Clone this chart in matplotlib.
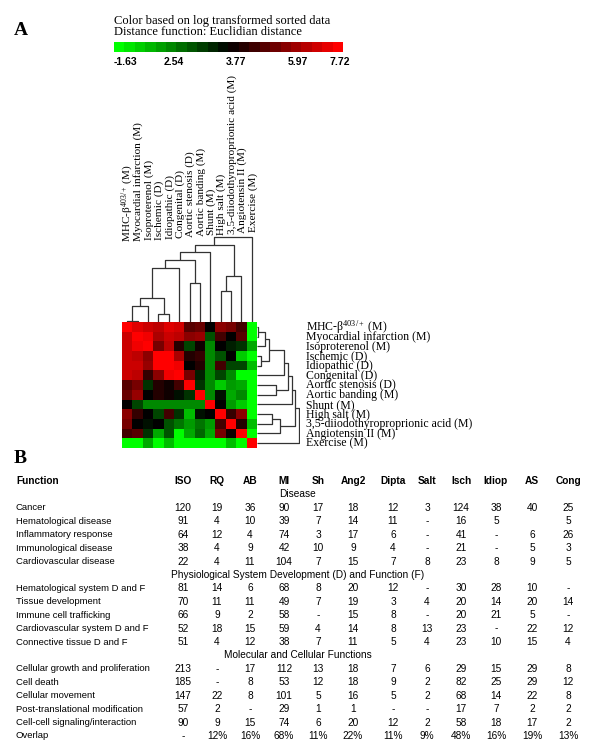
import numpy as np
import matplotlib
matplotlib.use('Agg')
import matplotlib.pyplot as plt
from matplotlib.colors import LinearSegmentedColormap, TwoSlopeNorm
from matplotlib import transforms

plt.rcParams['mathtext.fontset'] = 'custom'
plt.rcParams['mathtext.rm'] = 'Liberation Serif'
plt.rcParams['mathtext.it'] = 'Liberation Serif:italic'
plt.rcParams['mathtext.bf'] = 'Liberation Serif:bold'

SERIF = 'Liberation Serif'
SANS = 'Liberation Sans'

# ---- panel A data ----
models = ['MHC-β$^{403/+}$ (M)', 'Myocardial infarction (M)', 'Isoproterenol (M)',
          'Ischemic (D)', 'Idiopathic (D)', 'Congenital (D)', 'Aortic stenosis (D)',
          'Aortic banding (M)', 'Shunt (M)', 'High salt (M)',
          '3,5-diiodothyroproprionic acid (M)', 'Angiotensin II (M)', 'Exercise (M)']

heat = np.array([
    [7.7, 7.2, 6.9, 6.7, 7.2, 7.0, 5.1, 5.4, 3.8, 5.9, 5.6, 4.8, -1.6],
    [6.9, 7.7, 7.5, 6.4, 6.9, 6.7, 5.9, 6.1, 2.0, 4.8, 3.8, 5.1, -1.6],
    [6.9, 7.5, 7.7, 5.6, 6.7, 4.3, 2.3, 4.0, 0.9, 3.8, 3.1, 2.7, 0.2],
    [6.9, 6.7, 5.9, 7.7, 7.7, 6.4, 4.3, 4.6, 0.9, 2.0, 3.8, -0.5, -1.6],
    [6.9, 6.9, 6.1, 7.7, 7.7, 7.5, 3.8, 4.3, 0.9, 4.8, 2.3, 2.3, -0.2],
    [6.9, 6.7, 4.6, 5.9, 7.5, 7.7, 5.6, 3.1, 0.9, 2.3, 0.9, -1.6, -1.6],
    [5.1, 5.6, 2.7, 4.3, 4.0, 4.8, 7.7, 2.7, 0.9, -0.5, 0.5, 0.2, -1.6],
    [5.4, 6.1, 3.8, 4.3, 4.0, 3.4, 2.7, 7.7, 0.9, 3.4, 0.2, 0.9, -1.6],
    [3.8, 2.3, 0.9, 0.9, 0.9, 0.9, 0.9, 0.9, 7.7, 3.8, 0.5, -0.5, -1.6],
    [5.9, 4.6, 3.8, 2.3, 4.8, 2.7, -0.2, 3.4, 3.8, 7.7, 4.6, 5.9, -1.6],
    [5.6, 3.8, 3.4, 3.8, 2.0, 1.3, 0.5, 1.3, 0.5, 4.8, 7.7, 4.3, -0.2],
    [4.8, 5.1, 2.7, 0.2, 2.0, -1.6, 0.2, 1.6, 0.2, 5.6, 4.0, 7.7, -1.6],
    [-1.6, -1.6, 0.2, -1.6, -0.2, -1.6, -1.6, -1.6, -1.6, -1.6, -0.2, -1.6, 7.7],
])

# merges: (node a, node b, distance); new nodes numbered from 13
links = [(0, 1, 1.2), (13, 2, 16.0), (3, 4, 8.0), (14, 15, 23.7), (16, 5, 53.7),
         (6, 7, 38.7), (17, 18, 62.0), (19, 8, 70.3), (9, 10, 31.3), (21, 11, 46.0),
         (20, 22, 77.0), (23, 12, 85.3)]

cbar_ticks = ['-1.63', '2.54', '3.77', '5.97', '7.72']
vmin, vmid, vmax = -1.63, 3.77, 7.72

# ---- panel B data ----
drugs = ['ISO', 'RQ', 'AB', 'MI', 'Sh', 'Ang2', 'Dipta', 'Salt', 'Isch', 'Idiop', 'AS', 'Cong']

disease_rows = ['Cancer', 'Hematological disease', 'Inflammatory response',
                'Immunological disease', 'Cardiovascular disease']
disease_vals = [
    ['120', '19', '36', '90', '17', '18', '12', '3', '124', '38', '40', '25'],
    ['91', '4', '10', '39', '7', '14', '11', '-', '16', '5', '', '5'],
    ['64', '12', '4', '74', '3', '17', '6', '-', '41', '-', '6', '26'],
    ['38', '4', '9', '42', '10', '9', '4', '-', '21', '-', '5', '3'],
    ['22', '4', '11', '104', '7', '15', '7', '8', '23', '8', '9', '5'],
]
physio_rows = ['Hematological system D and F', 'Tissue development', 'Immune cell trafficking',
               'Cardiovascular system D and F', 'Connective tissue D and F']
physio_vals = [
    ['81', '14', '6', '68', '8', '20', '12', '-', '30', '28', '10', '-'],
    ['70', '11', '11', '49', '7', '19', '3', '4', '20', '14', '20', '14'],
    ['66', '9', '2', '58', '-', '15', '8', '-', '20', '21', '5', '-'],
    ['52', '18', '15', '59', '4', '14', '8', '13', '23', '-', '22', '12'],
    ['51', '4', '12', '38', '7', '11', '5', '4', '23', '10', '15', '4'],
]
molec_rows = ['Cellular growth and proliferation', 'Cell death', 'Cellular movement',
              'Post-translational modification', 'Cell-cell signaling/interaction']
molec_vals = [
    ['213', '-', '17', '112', '13', '18', '7', '6', '29', '15', '29', '8'],
    ['185', '-', '8', '53', '12', '18', '9', '2', '82', '25', '29', '12'],
    ['147', '22', '8', '101', '5', '16', '5', '2', '68', '14', '22', '8'],
    ['57', '2', '-', '29', '1', '1', '-', '-', '17', '7', '2', '2'],
    ['90', '9', '15', '74', '6', '20', '12', '2', '58', '18', '17', '2'],
]
overlap = ['-', '12%', '16%', '68%', '11%', '22%', '11%', '9%', '48%', '16%', '19%', '13%']

sections = [('Disease', disease_rows, disease_vals),
            ('Physiological System Development (D) and Function (F)', physio_rows, physio_vals),
            ('Molecular and Cellular Functions', molec_rows, molec_vals)]

W, H = 600, 756
fig = plt.figure(figsize=(W / 100, H / 100), dpi=100)


def px_axes(x, y, w, h):
    return fig.add_axes([x / W, 1 - (y + h) / H, w / W, h / H])


def fx(x):
    return x / W


def fy(y):
    return 1 - y / H


cmap = LinearSegmentedColormap.from_list('gbr', [(0, '#00ff00'), (0.5, '#000000'), (1, '#ff0000')])
norm = TwoSlopeNorm(vcenter=vmid, vmin=vmin, vmax=vmax)

# panel letters
fig.text(fx(14), fy(35), 'A', family=SERIF, weight='bold', fontsize=14, va='baseline')
fig.text(fx(14), fy(463), 'B', family=SERIF, weight='bold', fontsize=14, va='baseline')

# colour key
fig.text(fx(114), fy(24), 'Color based on log transformed sorted data', family=SERIF,
         fontsize=9, va='baseline')
fig.text(fx(114), fy(35), 'Distance function: Euclidian distance', family=SERIF,
         fontsize=9, va='baseline')
ax_cb = px_axes(114, 42, 229, 10)
ax_cb.imshow(np.linspace(0, 1, 22)[None, :], cmap=cmap, aspect='auto',
             interpolation='nearest', extent=(0, 1, 0, 1))
ax_cb.axis('off')
for lab, p in zip(cbar_ticks, [0.048, 0.262, 0.533, 0.803, 0.987]):
    fig.text(fx(114 + 229 * p), fy(62), lab, family=SANS, weight='bold', fontsize=7.5,
             ha='center', va='center')

# heatmap
n = len(models)
ax_hm = px_axes(122, 322, 135, 126)
ax_hm.imshow(heat, cmap=cmap, norm=norm, aspect='auto', interpolation='nearest')
ax_hm.axis('off')


def draw_dendro(ax, top):
    pos = {i: float(i) for i in range(n)}
    hgt = {i: 0.0 for i in range(n)}
    for k, (a, b, h) in enumerate(links):
        xs = [pos[a], pos[a], pos[b], pos[b]]
        ys = [hgt[a], h, h, hgt[b]]
        if top:
            ax.plot(xs, ys, color='#333333', lw=0.9, solid_capstyle='butt')
        else:
            ax.plot(ys, xs, color='#333333', lw=0.9, solid_capstyle='butt')
        pos[n + k] = (pos[a] + pos[b]) / 2
        hgt[n + k] = h


ax_top = px_axes(122, 236, 135, 86)
draw_dendro(ax_top, True)
ax_top.set_xlim(-0.5, n - 0.5)
ax_top.set_ylim(0, 86)
ax_top.axis('off')

ax_side = px_axes(257, 322, 43, 126)
draw_dendro(ax_side, False)
ax_side.set_ylim(n - 0.5, -0.5)
ax_side.set_xlim(0, 87)
ax_side.axis('off')

# column labels (rotated) and row labels
tr_col = transforms.blended_transform_factory(ax_hm.transData, fig.transFigure)
for i, lab in enumerate(models):
    fig.text(i + 0.34, fy(242 - i * 0.83), lab, transform=tr_col, rotation=90,
             rotation_mode='anchor', ha='left', va='baseline', family=SERIF, fontsize=8.1)
tr_row = transforms.blended_transform_factory(fig.transFigure, ax_hm.transData)
for j, lab in enumerate(models):
    fig.text(fx(306), j + 0.36, lab, transform=tr_row, ha='left', va='baseline',
             family=SERIF, fontsize=8.5)

# ---- panel B table ----
col_x = [183, 217, 250, 284, 318, 353, 393, 427, 461, 496, 532, 568]
y0, dy = 481, 13.42
fs = 7.3
fs_row = 6.8
fig.text(fx(16), fy(y0), 'Function', family=SANS, weight='bold', fontsize=fs, va='center')
for d, x in zip(drugs, col_x):
    fig.text(fx(x), fy(y0), d, family=SANS, weight='bold', fontsize=fs, ha='center', va='center')

r = 1
for title, names, vals in sections:
    fig.text(fx(298), fy(y0 + r * dy), title, family=SANS, fontsize=fs, ha='center', va='center')
    r += 1
    for name, row in zip(names, vals):
        y = fy(y0 + r * dy)
        fig.text(fx(16), y, name, family=SANS, fontsize=fs_row, va='center')
        for v, x in zip(row, col_x):
            fig.text(fx(x), y, v, family=SANS, fontsize=fs, ha='center', va='center')
        r += 1
y = fy(y0 + r * dy)
fig.text(fx(16), y, 'Overlap', family=SANS, fontsize=fs_row, va='center')
for v, x in zip(overlap, col_x):
    fig.text(fx(x), y, v, family=SANS, fontsize=fs, ha='center', va='center')

fig.savefig('out.png', dpi=100)
